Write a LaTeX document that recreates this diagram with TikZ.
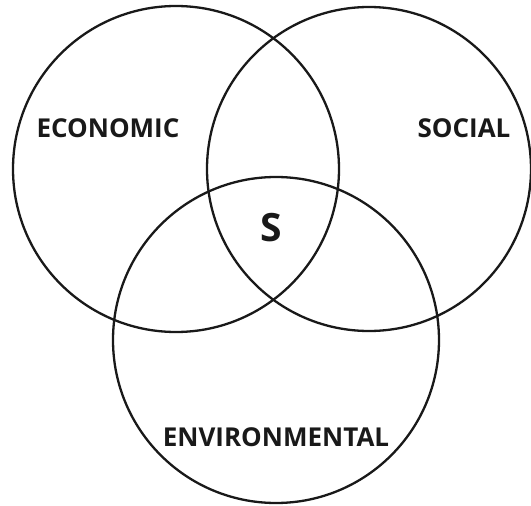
\documentclass[tikz,border=0pt]{standalone}
\usepackage{fontspec}
\setmainfont{Open Sans}
\begin{document}
\begin{tikzpicture}[x=1pt,y=-1pt,
  ring/.style={draw=black!90,line width=2.3pt},
  lbl/.style={font=\fontsize{26}{26}\selectfont\bfseries,text=black!90,inner sep=0pt},
  big/.style={font=\fontsize{39}{39}\selectfont\bfseries,text=black!90,inner sep=0pt}]
\useasboundingbox (0,0) rectangle (531,506);
\node[ring,circle,minimum size=326pt,inner sep=0pt] (eco) at (176,169) {};
\node[ring,circle,minimum size=324pt,inner sep=0pt] (soc) at (369,169) {};
\node[ring,circle,minimum size=326pt,inner sep=0pt] (env) at (276,340) {};
\node[lbl] (ecot) at (108,128) {ECONOMIC};
\node[lbl] (soct) at (464,128) {SOCIAL};
\node[lbl] (envt) at (276,437.5) {ENVIRONMENTAL};
\node[big] (s) at (271,228) {S};
\end{tikzpicture}
\end{document}
